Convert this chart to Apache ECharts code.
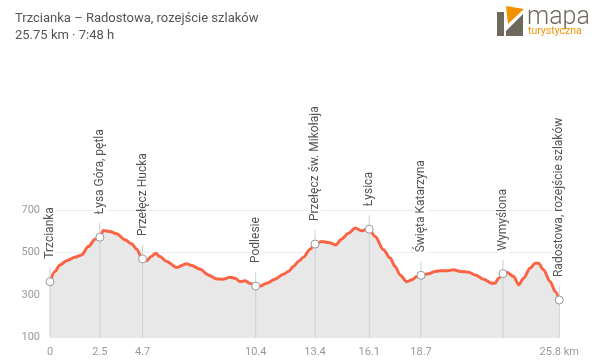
<!DOCTYPE html>
<html>
<head>
<meta charset="utf-8">
<script src="https://cdn.jsdelivr.net/npm/echarts@6/dist/echarts.min.js"></script>
<style>
html,body{margin:0;padding:0;background:#fff;}
#chart{width:600px;height:362px;}
</style>
</head>
<body>
<div id="chart"></div>
<script>
// ---- data ----
const titleText = 'Trzcianka – Radostowa, rozejście szlaków';
const subtitleText = '25.75 km · 7:48 h';

const profileKm = [0,0.25,0.5,0.84,1.26,1.6,1.94,2.28,2.52,2.7,3.03,3.37,3.79,4.13,4.38,4.68,4.89,5.11,5.35,5.56,5.9,6.4,6.9,7.17,7.59,8.0,8.43,8.77,9.1,9.36,9.61,9.86,10.1,10.4,10.62,10.96,11.38,11.8,12.05,12.3,12.56,12.81,13.15,13.4,13.74,14.08,14.45,14.75,15.09,15.43,15.77,15.93,16.14,16.44,16.86,17.2,17.45,17.7,18.04,18.3,18.55,18.76,19.13,19.47,19.81,20.06,20.4,20.74,21.16,21.5,21.92,22.34,22.5,22.68,22.9,23.1,23.44,23.7,23.94,24.28,24.53,24.7,24.95,25.29,25.55,25.75];
const profileElev = [363,411,442,462,478,489,528,563,572,604,599,588,560,541,516,470,462,481,497,481,458,430,447,439,422,395,376,375,384,379,363,367,356,343,343,356,375,398,411,434,458,478,516,540,552,547,536,564,591,615,602,607,610,575,513,474,434,395,363,372,387,393,400,411,415,414,419,411,408,395,375,356,356,379,401,408,387,348,379,427,450,450,419,363,316,277];

const waypointKm = [0,2.52,4.68,10.4,13.4,16.14,18.76,22.9,25.75];
const waypointElev = [363,572,470,343,540,610,393,401,277];
const waypointName = ['Trzcianka','Łysa Góra, pętla','Przełęcz Hucka','Podlesie','Przełęcz św. Mikołaja','Łysica','Święta Katarzyna','Wymyślona','Radostowa, rozejście szlaków'];

const tickKm = [0,2.52,4.68,10.4,13.4,16.14,18.76,25.75];
const tickLabels = ['0','2.5','4.7','10.4','13.4','16.1','18.7','25.8 km'];

const yMin = 100, yMax = 700, yStep = 200;

// ---- build ----
const profile = profileKm.map((k,i)=>[k, profileElev[i]]);
const waypoints = waypointKm.map((k,i)=>[k, waypointElev[i], waypointName[i]]);

const chart = echarts.init(document.getElementById('chart'), null, {renderer:'canvas'});
const FONT = 'Roboto, "Noto Sans", sans-serif';

chart.setOption({
  animation:false,
  backgroundColor:'#fff',
  textStyle:{fontFamily:FONT},
  grid:{left:50, right:40.7, top:210, bottom:24.3, containLabel:false},
  xAxis:{
    type:'value', min:0, max:25.75,
    axisLine:{show:false}, axisTick:{show:false}, splitLine:{show:false},
    axisLabel:{
      customValues: tickKm,
      color:'#999', fontSize:11, margin:9, fontFamily:FONT,
      formatter:function(v){ const i = tickKm.indexOf(v); return i>=0 ? tickLabels[i] : ''; }
    }
  },
  yAxis:{
    type:'value', min:yMin, max:yMax, interval:yStep,
    axisLine:{show:false}, axisTick:{show:false},
    splitLine:{show:true, lineStyle:{color:'#ebebeb', width:1}},
    axisLabel:{color:'#9a9a9a', fontSize:11, margin:10, fontFamily:FONT}
  },
  graphic:[
    {type:'text', left:15, top:12, style:{text:titleText, fill:'#555', font:'13px '+FONT}},
    {type:'text', left:15, top:29, style:{text:subtitleText, fill:'#555', font:'13px '+FONT}},
    {type:'polygon', shape:{points:[[497,12],[504,12],[504,36],[497,36]]}, style:{fill:'#6f685c'}},
    {type:'polygon', shape:{points:[[506,36],[523,36],[523,14],[506,31]]}, style:{fill:'#6f685c'}},
    {type:'polygon', shape:{points:[[506,6],[524,9],[508,24]]}, style:{fill:'#f39200'}},
    {type:'text', x:527, y:5, style:{text:'mapa', fill:'#6f685c', font:'300 25px '+FONT}},
    {type:'text', x:528, y:26, style:{text:'turystyczna', fill:'#f39200', font:'10.5px '+FONT}}
  ],
  series:[
    {
      type:'line', data:profile, showSymbol:false, smooth:0.3, smoothMonotone:'x',
      lineStyle:{color:'#fa6444', width:3},
      areaStyle:{color:'#e8e8e8', opacity:1},
      z:2
    },
    {
      type:'custom', data:waypoints, z:5, clip:false,
      renderItem:function(params, api){
        const km = api.value(0), el = api.value(1);
        const name = waypointName[params.dataIndex];
        const b = api.coord([km, yMin]);
        const p = api.coord([km, el]);
        return {type:'group', children:[
          {type:'line', shape:{x1:p[0], y1:b[1], x2:p[0], y2:p[1]-14}, style:{stroke:'#cfcfcf', lineWidth:1}},
          {type:'circle', shape:{cx:p[0], cy:p[1], r:4}, style:{fill:'#fff', stroke:'#999', lineWidth:1}},
          {type:'text', x:p[0], y:p[1]-21, rotation:Math.PI/2,
           style:{text:name, x:0, y:0, fill:'#555', font:'12px '+FONT, align:'left', verticalAlign:'middle', backgroundColor:'#fff', padding:[0,2]}}
        ]};
      }
    }
  ]
});
</script>
</body>
</html>
